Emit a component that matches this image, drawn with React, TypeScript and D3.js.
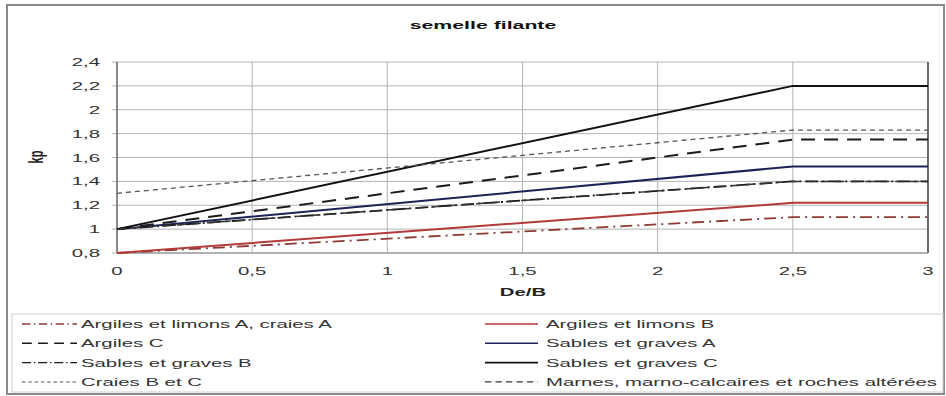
import * as d3 from "d3";

// De/B break points shared by every curve
const deB = [0, 2.5, 3];

const argilesA = [0.8, 1.1, 1.1];
const argilesB = [0.8, 1.22, 1.22];
const argilesC = [1, 1.75, 1.75];
const sablesA = [1, 1.525, 1.525];
const sablesB = [1, 1.4, 1.4];
const sablesC = [1, 2.2, 2.2];
const craiesBC = [1.3, 1.83, 1.83];
const marnes = [1, 1.4, 1.4];

const xTicks = [0, 0.5, 1, 1.5, 2, 2.5, 3];
const yTicks = [0.8, 1, 1.2, 1.4, 1.6, 1.8, 2, 2.2, 2.4];

type Serie = { name: string; values: number[]; color: string; dash: string; width: number };

const series: Serie[] = [
  { name: "Argiles et limons A, craies A", values: argilesA, color: "#8b3a35", dash: "12,5,2,5", width: 1.8 },
  { name: "Argiles et limons B", values: argilesB, color: "#b23a3a", dash: "", width: 2 },
  { name: "Argiles C", values: argilesC, color: "#1a1a1a", dash: "14,9", width: 2 },
  { name: "Sables et graves A", values: sablesA, color: "#1c2256", dash: "", width: 2 },
  { name: "Sables et graves B", values: sablesB, color: "#1a1a1a", dash: "13,4,2,4", width: 1.8 },
  { name: "Sables et graves C", values: sablesC, color: "#111", dash: "", width: 2 },
  { name: "Craies B et C", values: craiesBC, color: "#555", dash: "5,4", width: 1.3 },
  { name: "Marnes, marno-calcaires et roches altérées", values: marnes, color: "#333", dash: "9,6", width: 1.5 },
];

const W = 946;
const H = 396;
const SX = 1.85; // the source picture is stretched horizontally
const FONT = "'Liberation Sans', Arial, sans-serif";

const frac = (v: number) => d3.format("~g")(v).replace(".", ",");

function T({ x, y, children, anchor = "start", size = 11, bold = false, fill = "#222" }: any) {
  return (
    <text
      transform={`translate(${x},${y}) scale(${SX},1)`}
      textAnchor={anchor}
      dominantBaseline="central"
      fontSize={size}
      fontWeight={bold ? "bold" : "normal"}
      fill={fill}
      fontFamily={FONT}
    >
      {children}
    </text>
  );
}

export default function App() {
  const x = d3.scaleLinear().domain([0, 3]).range([117, 928]);
  const y = d3.scaleLinear().domain([0.8, 2.4]).range([253, 62]);

  const line = d3
    .line<number>()
    .x((_, i) => x(deB[i]))
    .y((d) => y(d));

  const rowY = (i: number) => 324 + i * 19.3;
  const legendCols = [
    { x1: 22, x2: 77, tx: 81 },
    { x1: 485, x2: 538, tx: 546 },
  ];

  return (
    <svg width={W} height={H} style={{ position: "absolute", left: 0, top: 0, background: "#fff" }}>
      <rect x={7} y={5} width={937} height={389} fill="#fff" stroke="#8a8a8a" strokeWidth={2} />

      <T x={483} y={25} anchor="middle" size={11.5} bold fill="#111">
        semelle filante
      </T>

      {/* grid */}
      {yTicks.map((t) => (
        <line key={"gy" + t} x1={112} x2={928} y1={y(t)} y2={y(t)} stroke="#b4b4b4" strokeWidth={1} />
      ))}
      {xTicks.map((t) => (
        <line key={"gx" + t} x1={x(t)} x2={x(t)} y1={62} y2={253} stroke="#b4b4b4" strokeWidth={1} />
      ))}
      <line x1={x(0)} x2={x(0)} y1={62} y2={253} stroke="#555" strokeWidth={1.2} />
      <line x1={x(3)} x2={x(3)} y1={62} y2={253} stroke="#444" strokeWidth={1.5} />
      <line x1={117} x2={928} y1={253} y2={253} stroke="#888" strokeWidth={1} />

      {series.map((s) => (
        <path
          key={s.name}
          d={line(s.values) || ""}
          fill="none"
          stroke={s.color}
          strokeWidth={s.width}
          strokeDasharray={s.dash}
        />
      ))}

      {yTicks.map((t) => (
        <T key={"ly" + t} x={100} y={y(t)} anchor="end" size={11} fill="#333">
          {frac(t)}
        </T>
      ))}
      {xTicks.map((t) => (
        <T key={"lx" + t} x={x(t)} y={271} anchor="middle" size={11} fill="#333">
          {frac(t)}
        </T>
      ))}

      <T x={523} y={292} anchor="middle" size={11} bold>
        De/B
      </T>
      <text
        transform={`translate(36,157) scale(${SX},1) rotate(-90)`}
        textAnchor="middle"
        dominantBaseline="central"
        fontSize={11}
        fontWeight="bold"
        fill="#222"
        fontFamily={FONT}
      >
        kp
      </text>

      {/* legend */}
      <rect x={12} y={314} width={931} height={78} fill="#fff" stroke="#cfcfcf" strokeWidth={1} />
      {series.map((s, i) => {
        const col = legendCols[i % 2];
        const ry = rowY(Math.floor(i / 2));
        return (
          <g key={"lg" + s.name}>
            <line
              x1={col.x1}
              x2={col.x2}
              y1={ry}
              y2={ry}
              stroke={s.color}
              strokeWidth={s.width * 0.8}
              strokeDasharray={s.dash ? s.dash.split(",").map((v) => +v * 0.7).join(",") : ""}
            />
            <T x={col.tx} y={ry} size={11} fill="#333">
              {s.name}
            </T>
          </g>
        );
      })}
    </svg>
  );
}
